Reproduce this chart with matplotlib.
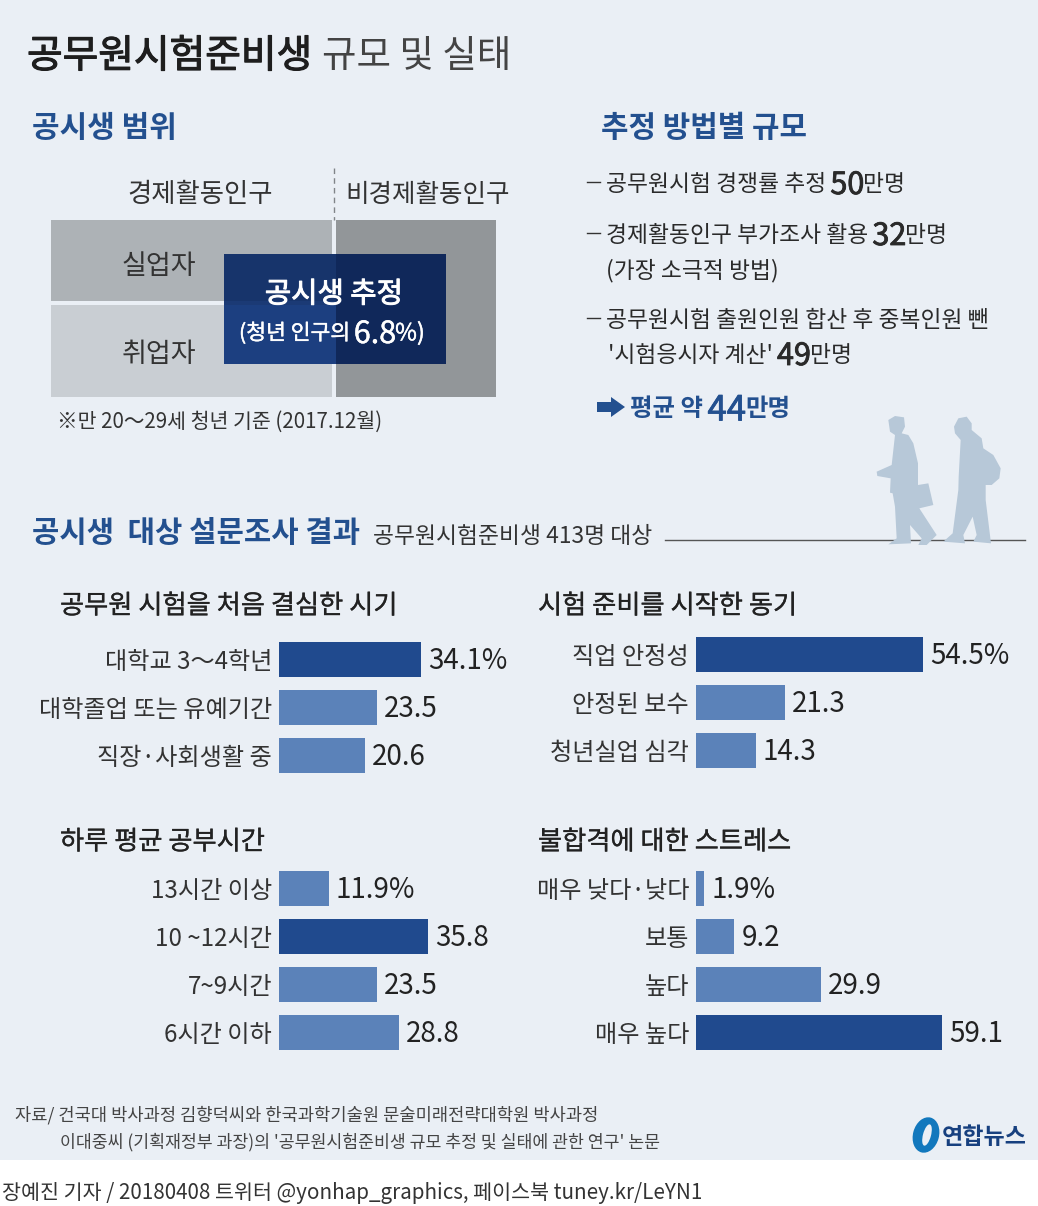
import matplotlib
matplotlib.use("Agg")
import matplotlib.pyplot as plt
import matplotlib.patheffects as pe
from matplotlib.patches import Rectangle, Polygon, Ellipse

plt.rcParams['font.family'] = ['Noto Sans CJK KR', 'DejaVu Sans']

W, H = 1038, 1206
BG = '#eaeff5'; DARK = '#204a8e'; LIGHT = '#5b82b9'; INK = '#2a2a2a'; HEAD = '#23508f'; SIL = '#b7c8d8'

# ---- data ----
when_labels = ['대학교 3～4학년', '대학졸업 또는 유예기간', '직장·사회생활 중']
when_values = [34.1, 23.5, 20.6]
when_text = ['34.1%', '23.5', '20.6']
why_labels = ['직업 안정성', '안정된 보수', '청년실업 심각']
why_values = [54.5, 21.3, 14.3]
why_text = ['54.5%', '21.3', '14.3']
hours_labels = ['13시간 이상', '10 ~12시간', '7~9시간', '6시간 이하']
hours_values = [11.9, 35.8, 23.5, 28.8]
hours_text = ['11.9%', '35.8', '23.5', '28.8']
stress_labels = ['매우 낮다·낮다', '보통', '높다', '매우 높다']
stress_values = [1.9, 9.2, 29.9, 59.1]
stress_text = ['1.9%', '9.2', '29.9', '59.1']

fig = plt.figure(figsize=(W/100, H/100), dpi=100, facecolor='white')
bg = fig.add_axes([0, 0, 1, 1]); bg.set_xlim(0, W); bg.set_ylim(H, 0); bg.axis('off')
bg.add_patch(Rectangle((0, 0), W, 1160, fc=BG, ec='none'))

def T(x, y, s, size, color=INK, weight='normal', ha='left', stroke=0, **kw):
    t = bg.text(x, y, s, fontsize=size, color=color, fontweight=weight, ha=ha, va='center_baseline', **kw)
    if stroke:
        t.set_path_effects([pe.withStroke(linewidth=stroke, foreground=color)])
    return t

def runs(x, y, parts):
    r = fig.canvas.get_renderer()
    for s, size, color, weight, stroke in parts:
        t = T(x, y, s, size, color, weight, stroke=stroke)
        x = bg.transData.inverted().transform(t.get_window_extent(r))[1][0] - 1

# title
T(27, 52, '공무원시험준비생', 27.9, '#1e1e1e', stroke=0.8)
T(322, 52, '규모 및 실태', 27, '#444444', 'light')

# left diagram
T(32, 125, '공시생 범위', 21.6, HEAD, 'bold')
T(200, 192, '경제활동인구', 19, '#333333', 'light', ha='center')
T(428, 192, '비경제활동인구', 18.4, '#333333', 'light', ha='center')
bg.plot([333.5, 333.5], [168, 220], color='#808488', lw=1, ls=(0, (4, 3)))
bg.add_patch(Rectangle((51, 220), 281, 81, fc='#adb2b6', ec='none'))
bg.add_patch(Rectangle((51, 305), 281, 92, fc='#c9ced3', ec='none'))
bg.add_patch(Rectangle((336, 220), 160, 177, fc='#929699', ec='none'))
bg.add_patch(Rectangle((224, 254), 112, 47, fc='#17346b', ec='none'))
bg.add_patch(Rectangle((224, 301), 112, 4, fc='#1b3a75', ec='none'))
bg.add_patch(Rectangle((224, 305), 112, 59, fc='#1c3f80', ec='none'))
bg.add_patch(Rectangle((336, 254), 110, 110, fc='#10285a', ec='none'))
T(159, 263, '실업자', 19.5, '#333333', 'light', ha='center')
T(159, 351, '취업자', 19.5, '#333333', 'light', ha='center')
T(334, 291, '공시생 추정', 20.6, 'white', stroke=0.7, ha='center')
runs(239, 331, [('(청년 인구의 ', 15.5, 'white', 'normal', 0.3), ('6.8', 22, 'white', 'normal', 0.3), ('%)', 17, 'white', 'normal', 0.3)])
T(57, 419, '※만 20～29세 청년 기준 (2017.12월)', 14.8, '#333333', 'light')

# right list
T(601, 125, '추정 방법별 규모', 21.5, HEAD, 'bold')
bg.plot([587, 600], [182, 182], color='#333333', lw=1)
runs(606, 182, [('공무원시험 경쟁률 추정 ', 16.4, INK, 'light', 0), ('50', 22, INK, 'normal', 0.6), ('만명', 16.4, INK, 'light', 0)])
bg.plot([587, 600], [233, 233], color='#333333', lw=1)
runs(606, 233, [('경제활동인구 부가조사 활용 ', 16.4, INK, 'light', 0), ('32', 22, INK, 'normal', 0.6), ('만명', 16.4, INK, 'light', 0)])
T(606, 268, '(가장 소극적 방법)', 16.4, INK, 'light')
bg.plot([587, 600], [318, 318], color='#333333', lw=1)
T(606, 318, '공무원시험 출원인원 합산 후 중복인원 뺀', 16.4, INK, 'light')
runs(608, 353, [("'시험응시자 계산' ", 16.4, INK, 'light', 0), ('49', 22, INK, 'normal', 0.6), ('만명', 16.4, INK, 'light', 0)])
bg.add_patch(Polygon([(597, 402), (611, 402), (611, 397), (625, 407), (611, 417), (611, 412), (597, 412)], fc=HEAD, ec='none'))
runs(630, 407, [('평균 약 ', 17.6, HEAD, 'bold', 0), ('44', 25, HEAD, 'normal', 0.6), ('만명', 17.6, HEAD, 'bold', 0)])

# survey header
T(32, 530, '공시생  대상 설문조사 결과', 21.4, HEAD, 'bold')
T(373, 534, '공무원시험준비생 413명 대상', 16.4, '#333333', 'light')
bg.plot([665, 1025], [540, 540], color='#555555', lw=1)

# silhouettes (zoom-space outlines mapped to page pixels)
def sil(pts):
    bg.add_patch(Polygon([(580 + a/3, 400 + b/3) for a, b in pts], fc=SIL, ec='none', zorder=3))
sil([(925,60),(945,48),(972,52),(975,80),(965,100),(985,105),(1000,130),(1014,190),(1014,255),(1045,250),(1060,315),(1018,325),
     (1070,405),(1040,435),(1015,435),(1025,415),(990,375),(993,430),(925,433),(950,415),(945,320),(938,280),(930,278),(932,235),
     (892,228),(890,215),(935,195),(945,105),(930,95)])
sil([(1122,80),(1135,55),(1160,50),(1175,70),(1175,90),(1205,115),(1210,145),(1240,165),(1262,205),(1258,235),(1235,255),(1217,255),
     (1217,300),(1233,430),(1180,425),(1190,405),(1178,350),(1150,405),(1155,430),(1090,425),(1118,400),(1135,270),(1136,230),(1142,120),(1125,100)])

# survey panels
def panel(x0, y0, y1, title, tx, ty, labels, values, texts):
    # 4.165 px per percentage point; each row is 48 px
    n = len(values)
    width_px = 300
    ax = fig.add_axes([x0/W, 1 - y1/H, width_px/W, (y1 - y0)/H])
    ax.patch.set_alpha(0)
    ys = list(range(n))
    cols = [DARK if v == max(values) else LIGHT for v in values]
    ax.barh(ys, values, height=35/48, color=cols)
    ax.set_xlim(0, width_px/4.165); ax.set_ylim(n - 0.5, -0.5)
    ax.set_xticks([]); ax.set_yticks(ys, labels)
    ax.tick_params(axis='y', length=0, pad=5, labelsize=17.4, labelcolor='#333333')
    for sp in ax.spines.values():
        sp.set_visible(False)
    for y, v, s in zip(ys, values, texts):
        ax.annotate(s, (v, y), xytext=(5.2, 0.8), textcoords='offset points', va='center_baseline', ha='left',
                    fontsize=20, color='#222222')
    T(tx, ty, title, 18.9, '#222222', stroke=0.2)

panel(279, 635, 779, '공무원 시험을 처음 결심한 시기', 60, 603, when_labels, when_values, when_text)
panel(696, 630, 774, '시험 준비를 시작한 동기', 538, 603, why_labels, why_values, why_text)
panel(279, 864, 1056, '하루 평균 공부시간', 60, 839, hours_labels, hours_values, hours_text)
panel(696, 864, 1056, '불합격에 대한 스트레스', 538, 839, stress_labels, stress_values, stress_text)

# source
T(15, 1113, '자료/ 건국대 박사과정 김향덕씨와 한국과학기술원 문술미래전략대학원 박사과정', 12.7, '#444444', 'light', style='italic')
T(60, 1140, "이대중씨 (기획재정부 과장)의 '공무원시험준비생 규모 추정 및 실태에 관한 연구' 논문", 12.45, '#444444', 'light', style='italic')
bg.add_patch(Ellipse((926, 1135), 26, 36, angle=15, fc='#1278bd', ec='none'))
bg.add_patch(Ellipse((927, 1135), 8, 22, angle=15, fc=BG, ec='none'))
T(942, 1135, '연합뉴스', 16.6, '#17407f', 'bold')
T(2, 1191, '장예진 기자 / 20180408 트위터 @yonhap_graphics, 페이스북 tuney.kr/LeYN1', 14.85, '#333333', 'light')

fig.savefig('out.png', dpi=100, facecolor='white')
